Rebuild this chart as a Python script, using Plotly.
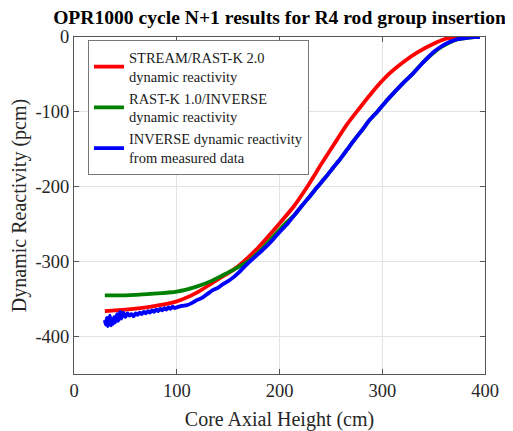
import plotly.graph_objects as go

# ---- data ----
stream_x = [30, 50, 75, 100, 120, 142, 155, 165, 180, 200, 214, 227, 241, 256, 265, 275, 290, 306, 320, 335, 350, 363, 375, 395]
stream_y = [-366, -364, -360, -353, -341, -322, -311, -300, -280, -249, -226, -200, -169, -137, -118, -100, -74, -50, -34, -20, -9, -2, 0, 0]

rastk_x = [30, 50, 75, 100, 120, 135, 142, 155, 169, 180, 191, 205, 215, 222, 230, 237, 245, 252, 259, 266, 273, 280, 287, 295, 303, 311, 320, 329, 339, 350, 358, 366, 374, 383, 390, 395]
rastk_y = [-345, -345, -343, -340, -333, -325, -320, -311, -300, -287, -271, -250, -237, -225, -212, -200, -187, -175, -163, -150, -137, -125, -112, -100, -87, -75, -62, -50, -35, -21, -13, -7, -3, -1, 0, 0]

meas_x = [30, 31, 32, 33, 34, 35, 36, 37, 38, 39, 40, 41, 42, 43, 44, 45, 46, 47, 48, 50, 52, 54, 56, 58, 60,
          62, 64, 66, 68, 70, 72, 74, 76, 78, 80, 82, 84, 86, 88, 90, 92, 94, 96, 98,
          100, 105, 110, 115, 120, 125, 130, 135, 140, 145, 150, 155, 160, 165, 171, 180, 187, 194, 201, 208,
          215, 222, 230, 237, 245, 252, 259, 266, 273, 280, 287, 295, 303, 311, 320, 329, 339, 350, 357, 365,
          373, 382, 390, 395]
meas_y = [-378, -384, -375, -386, -380, -372, -385, -377, -383, -374, -381, -376, -370, -379, -373, -367, -376, -371, -368, -374, -369, -372, -370, -373, -369,
          -371, -368, -370, -367, -369, -366, -368, -365, -367, -364, -366, -363, -365, -362, -364, -361, -363, -360, -362,
          -361, -359, -358, -355, -351, -348, -343, -338, -335, -330, -326, -321, -315, -308, -300, -289, -280, -270, -259, -249,
          -237, -225, -212, -200, -187, -175, -163, -150, -137, -125, -112, -100, -87, -75, -62, -50, -35, -20, -13, -7,
          -3, -1, 0, 0]

series_names = ["STREAM/RAST-K 2.0<br>dynamic reactivity",
                "RAST-K 1.0/INVERSE<br>dynamic reactivity",
                "INVERSE dynamic reactivity<br>from measured data"]

x_tickvals = [0, 100, 200, 300, 400]
x_ticktext = ["0", "100", "200", "300", "400"]
y_tickvals = [-400, -300, -200, -100, 0]
y_ticktext = ["-400", "-300", "-200", "-100", "0"]

title_text = "OPR1000 cycle N+1 results for R4 rod group insertion"
x_title = "Core Axial Height (cm)"
y_title = "Dynamic Reactivity (pcm)"

# ---- figure ----
FONT = "Liberation Serif"
colors = ["#ff0000", "#008000", "#0000ff"]

fig = go.Figure()
for xs, ys, name, col in [(stream_x, stream_y, series_names[0], colors[0]),
                          (rastk_x, rastk_y, series_names[1], colors[1]),
                          (meas_x, meas_y, series_names[2], colors[2])]:
    fig.add_trace(go.Scatter(x=xs, y=ys, mode="lines", name=name,
                             line=dict(color=col, width=3.8, shape="spline", smoothing=0.6)))

axis_common = dict(showline=True, linecolor="#555555", linewidth=1, mirror="ticks",
                   ticks="inside", ticklen=5, tickcolor="#555555",
                   showgrid=True, gridcolor="#e3e3e3", gridwidth=1, zeroline=False,
                   tickfont=dict(family=FONT, size=18.5, color="#262626"))

W, H = 505, 423  # page body adds an 8 px offset
fig.update_layout(
    width=W, height=H,
    margin=dict(l=66, r=28, t=29, b=56.5, autoexpand=False),
    paper_bgcolor="white", plot_bgcolor="white",
    font=dict(family=FONT, color="#262626"),
    title=dict(text="<b>" + title_text + "</b>", x=0.5, xref="paper", xanchor="center",
               y=1 - 9 / H, yref="container", yanchor="middle",
               font=dict(family=FONT, size=19.6, color="black")),
    xaxis=dict(range=[0, 400], tickvals=x_tickvals, ticktext=x_ticktext,
               title=dict(text=x_title, font=dict(family=FONT, size=20, color="#262626"), standoff=11),
               **axis_common),
    yaxis=dict(range=[-450, 0], tickvals=y_tickvals, ticktext=y_ticktext,
               title=dict(text=y_title, font=dict(family=FONT, size=20, color="#262626"), standoff=6),
               **axis_common),
    legend=dict(x=0.034, y=0.99, xanchor="left", yanchor="top",
                bgcolor="white", bordercolor="#777777", borderwidth=1,
                font=dict(family=FONT, size=14.5, color="#1a1a1a"), valign="middle",
                tracegroupgap=0),
    showlegend=True,
)

fig.write_html("out.html")
